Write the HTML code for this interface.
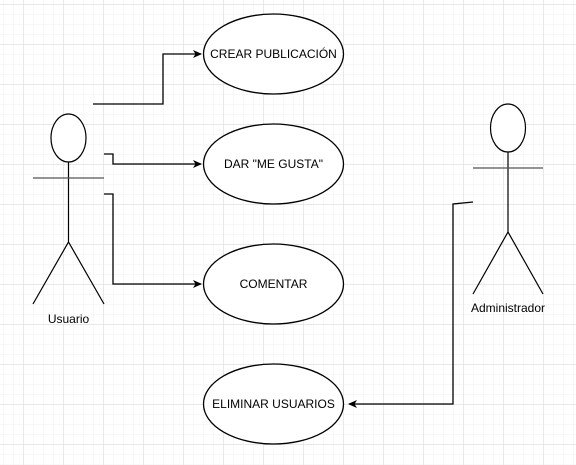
<!DOCTYPE html>
<html><head><style>
body{margin:0;width:576px;height:465px;overflow:hidden;background:#fff}
svg{display:block}
text{font-family:"Liberation Sans",sans-serif;font-size:12px;fill:#000}
</style></head><body>
<svg width="576" height="465" viewBox="0 0 576 465">
<defs>
<pattern id="m" width="10" height="10" patternUnits="userSpaceOnUse" x="3" y="4">
<path d="M0 0H10M0 0V10" stroke="#f0f0f0" stroke-width="1" fill="none"/>
</pattern>
<pattern id="M" width="40" height="40" patternUnits="userSpaceOnUse" x="23.5" y="4.5">
<path d="M0 0H40M0 0V40" stroke="#e0e0e0" stroke-width="1" fill="none"/>
</pattern>
<marker id="a" markerWidth="10" markerHeight="10" refX="8" refY="5" orient="auto" markerUnits="userSpaceOnUse">
<path d="M0 1L9 5L0 9L2.5 5Z" fill="#000"/>
</marker>
</defs>
<rect width="576" height="465" fill="url(#m)"/>
<rect width="576" height="465" fill="url(#M)"/>
<g fill="none" stroke="#000" stroke-width="1.3">
<path d="M93 104H163V54H201" marker-end="url(#a)"/>
<path d="M104 154H113V164H201" marker-end="url(#a)"/>
<path d="M104 194H113V284H201" marker-end="url(#a)"/>
<path d="M473 202L453 204V404H349" marker-end="url(#a)"/>
</g>
<g fill="#fff" stroke="#000" stroke-width="1.3">
<ellipse cx="273.5" cy="54" rx="70" ry="40"/>
<ellipse cx="273.5" cy="164" rx="70" ry="40"/>
<ellipse cx="273.5" cy="284" rx="70" ry="40"/>
<ellipse cx="273.5" cy="404" rx="70" ry="40"/>
</g>
<g fill="#fff" stroke="#000" stroke-width="1.2">
<ellipse cx="68.5" cy="138" rx="17.5" ry="24"/>
<path d="M68.5 162V242M33 304L68.5 242L104 304" fill="none"/>
<path d="M33 178H104" stroke="#555" fill="none"/>
<ellipse cx="508" cy="128" rx="17.5" ry="24"/>
<path d="M508 152V232M473 294L508 232L543 294" fill="none"/>
<path d="M473 168H543" stroke="#555" fill="none"/>
</g>
<g text-anchor="middle">
<text x="273.5" y="58">CREAR PUBLICACIÓN</text>
<text x="273.5" y="168">DAR "ME GUSTA"</text>
<text x="273.5" y="288">COMENTAR</text>
<text x="273.5" y="408">ELIMINAR USUARIOS</text>
<text x="68.5" y="323">Usuario</text>
<text x="508" y="312">Administrador</text>
</g>
</svg>
</body></html>
